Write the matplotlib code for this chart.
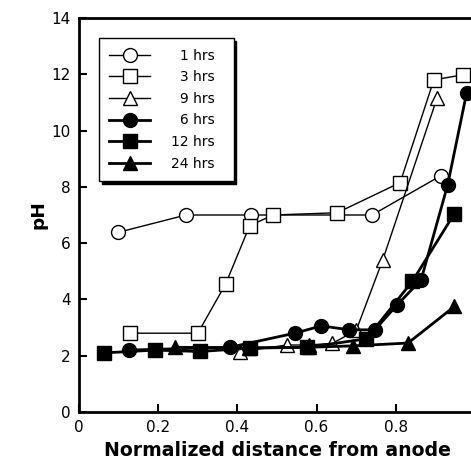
import matplotlib.pyplot as plt

x_1h = [0.098, 0.27, 0.435, 0.74, 0.913]
y_1h = [6.38, 7.0, 7.0, 7.0, 8.39]

x_3h = [0.13, 0.30, 0.37, 0.431, 0.49, 0.652, 0.811, 0.896, 0.969]
y_3h = [2.8, 2.8, 4.54, 6.62, 7.0, 7.08, 8.15, 11.8, 11.98]

x_9h = [0.406, 0.525, 0.58, 0.64, 0.70, 0.767, 0.904]
y_9h = [2.14, 2.38, 2.38, 2.44, 2.9, 5.4, 11.15]

x_6h = [0.126, 0.381, 0.545, 0.612, 0.683, 0.747, 0.803, 0.864, 0.931, 0.979]
y_6h = [2.2, 2.3, 2.8, 3.06, 2.92, 2.92, 3.8, 4.7, 8.07, 11.35]

x_12h = [0.063, 0.192, 0.305, 0.433, 0.577, 0.726, 0.842, 0.948]
y_12h = [2.1, 2.2, 2.15, 2.27, 2.3, 2.6, 4.65, 7.05]

x_24h = [0.242, 0.43, 0.58, 0.692, 0.831, 0.948]
y_24h = [2.3, 2.28, 2.3, 2.35, 2.45, 3.75]

labels = ['1 hrs', '3 hrs', '9 hrs', '6 hrs', '12 hrs', '24 hrs']

plt.rcParams['font.family'] = ['DejaVu Sans']

fig = plt.figure(figsize=(4.71, 4.72), dpi=100)
ax = fig.add_axes([79 / 471, 60 / 472, 396 / 471, 394 / 472])

thin = dict(color='black', lw=1.0, markersize=10, markerfacecolor='white',
            markeredgecolor='black', markeredgewidth=1.0)
thick = dict(color='black', lw=2.0, markersize=10, markerfacecolor='black',
             markeredgecolor='black')

# pad one-digit labels with a figure space so they line up on the right
def lab(s):
    return ('\u2007' if len(s) == 5 else '') + s + '\u2007'

ax.plot(x_1h, y_1h, marker='o', label=lab(labels[0]), **thin)
ax.plot(x_3h, y_3h, marker='s', label=lab(labels[1]), **thin)
ax.plot(x_9h, y_9h, marker='^', label=lab(labels[2]), **thin)
ax.plot(x_6h, y_6h, marker='o', label=lab(labels[3]), **thick)
ax.plot(x_12h, y_12h, marker='s', label=lab(labels[4]), **thick)
ax.plot(x_24h, y_24h, marker='^', label=lab(labels[5]), **thick)

ax.set_xlim(0, 1)
ax.set_ylim(0, 14)
ax.set_xticks([0, 0.2, 0.4, 0.6, 0.8])
ax.set_xticklabels(['0', '0.2', '0.4', '0.6', '0.8'])
ax.set_yticks(range(0, 15, 2))
ax.tick_params(direction='in', length=6, width=1.5, labelsize=11, pad=6)
for s in ['left', 'bottom', 'top']:
    ax.spines[s].set_linewidth(2)
ax.spines['right'].set_visible(False)

ax.set_xlabel('Normalized distance from anode', fontsize=13.6, fontweight='bold')
ax.set_ylabel('pH', fontsize=13.3, fontweight='bold', labelpad=3)

leg = ax.legend(loc='upper left', bbox_to_anchor=(0.0505, 0.949), borderaxespad=0,
                fontsize=10, handlelength=2.9, handletextpad=1.5,
                frameon=True, fancybox=False,
                shadow={'color': 'black', 'alpha': 1.0},
                edgecolor='black', labelspacing=0.55, borderpad=0.75)
leg.get_frame().set_linewidth(1.0)

fig.savefig('out.png', dpi=100)
